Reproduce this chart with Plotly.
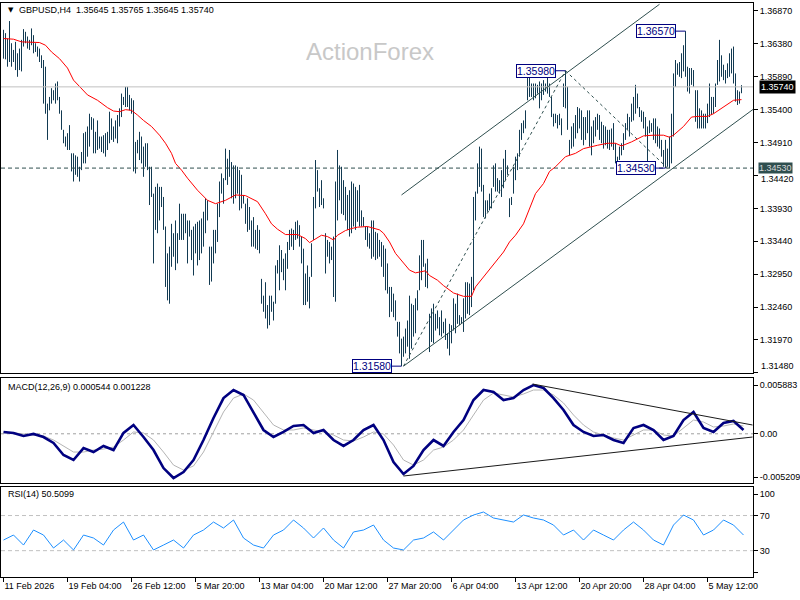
import plotly.graph_objects as go

# ---------------- data (H4 bars, index 0 = first bar) ----------------
high = [
1.3659,1.3654,1.3646,1.3672,1.3639,1.3629,1.3641,1.3624,1.3631,1.3644,
1.3660,1.3656,1.3649,1.3644,1.3661,1.3651,1.3639,1.3634,1.3631,1.3621,
1.3614,1.3604,1.3549,1.3559,1.3572,1.3569,1.3579,1.3582,1.3559,1.3539,
1.3510,1.3500,1.3505,1.3517,1.3475,1.3475,1.3472,1.3470,1.3455,1.3477,
1.3505,1.3507,1.3515,1.3534,1.3529,1.3527,1.3507,1.3524,1.3500,1.3500,
1.3502,1.3505,1.3507,1.3537,1.3527,1.3515,1.3524,1.3532,1.3542,1.3564,
1.3559,1.3574,1.3574,1.3562,1.3557,1.3554,1.3492,1.3495,1.3507,1.3500,
1.3485,1.3490,1.3490,1.3455,1.3455,1.3415,1.3425,1.3430,1.3425,1.3425,
1.3410,1.3366,1.3326,1.3336,1.3370,1.3356,1.3375,1.3356,1.3400,1.3385,
1.3385,1.3385,1.3375,1.3375,
1.3361,1.3366,1.3370,1.3373,1.3375,1.3378,1.3388,1.3408,1.3405,1.3336,
1.3336,1.3361,1.3361,1.3400,1.3433,1.3445,1.3438,1.3482,1.3467,1.3480,
1.3462,1.3457,1.3457,1.3455,1.3450,1.3443,1.3413,1.3400,1.3408,1.3395,
1.3375,1.3380,1.3361,1.3368,1.3361,1.3288,1.3263,1.3283,1.3249,1.3263,
1.3263,1.3254,1.3308,1.3316,1.3338,1.3331,1.3318,1.3326,1.3343,1.3361,
1.3363,1.3361,1.3373,1.3375,1.3368,1.3351,1.3333,1.3296,1.3308,1.3291,
1.3341,1.3410,1.3465,1.3450,1.3423,1.3435,1.3408,1.3356,1.3346,1.3343,
1.3336,1.3351,1.3433,1.3480,1.3457,1.3455,1.3435,1.3425,1.3413,1.3420,
1.3433,1.3430,1.3425,1.3420,1.3428,1.3390,1.3380,1.3366,1.3366,1.3356,
1.3375,1.3375,1.3358,1.3356,
1.3346,1.3343,1.3338,1.3333,1.3311,1.3276,1.3276,1.3266,1.3256,1.3224,
1.3224,1.3199,1.3202,1.3214,1.3226,1.3263,1.3251,1.3249,1.3259,1.3271,
1.3323,1.3346,1.3346,1.3311,1.3318,1.3236,1.3244,1.3251,1.3236,1.3241,
1.3231,1.3241,1.3224,1.3229,1.3207,1.3221,1.3219,1.3259,1.3251,1.3266,
1.3234,1.3231,1.3259,1.3283,1.3283,1.3281,1.3291,1.3410,1.3418,1.3460,
1.3485,1.3482,1.3428,1.3405,1.3405,1.3415,1.3423,1.3457,1.3460,1.3438,
1.3435,1.3450,1.3467,1.3480,1.3457,1.3408,1.3410,1.3455,1.3470,1.3475,
1.3510,1.3520,1.3524,1.3539,1.3589,1.3589,1.3579,1.3579,1.3579,1.3577,
1.3582,1.3579,1.3584,1.3579,1.3597,1.3579,1.3559,1.3534,1.3534,1.3532,
1.3534,1.3527,1.3579,1.3598,
1.3574,1.3495,1.3515,1.3520,1.3532,1.3544,1.3542,1.3539,1.3529,1.3529,
1.3539,1.3539,1.3515,1.3524,1.3529,1.3534,1.3532,1.3522,1.3517,1.3515,
1.3510,1.3510,1.3512,1.3520,1.3490,1.3470,1.3485,1.3490,1.3505,1.3520,
1.3534,1.3529,1.3549,1.3559,1.3577,1.3564,1.3544,1.3539,1.3537,1.3529,
1.3515,1.3524,1.3520,1.3527,1.3527,1.3515,1.3512,1.3495,1.3480,1.3495,
1.3482,1.3500,1.3534,1.3594,1.3614,1.3609,1.3611,1.3624,1.3636,1.3657,
1.3604,1.3602,1.3602,1.3599,1.3569,1.3569,1.3542,1.3539,1.3534,1.3534,
1.3549,1.3579,1.3559,1.3559,1.3579,1.3614,1.3644,1.3621,1.3607,1.3599,
1.3609,1.3624,1.3631,1.3634,1.3594,1.3569,1.3567,1.35765]

low = [
1.3616,1.3615,1.3604,1.3611,1.3604,1.3611,1.3599,1.3589,1.3599,1.3597,
1.3634,1.3639,1.3631,1.3629,1.3636,1.3624,1.3626,1.3619,1.3611,1.3602,
1.3549,1.3534,1.3495,1.3539,1.3549,1.3554,1.3549,1.3554,1.3534,1.3510,
1.3490,1.3485,1.3480,1.3480,1.3448,1.3433,1.3443,1.3440,1.3433,1.3450,
1.3460,1.3460,1.3470,1.3485,1.3510,1.3475,1.3475,1.3480,1.3482,1.3477,
1.3475,1.3470,1.3480,1.3490,1.3495,1.3492,1.3497,1.3490,1.3515,1.3529,
1.3547,1.3544,1.3544,1.3539,1.3534,1.3448,1.3445,1.3475,1.3465,1.3460,
1.3440,1.3455,1.3450,1.3398,1.3410,1.3311,1.3361,1.3356,1.3375,1.3395,
1.3361,1.3276,1.3256,1.3251,1.3306,1.3321,1.3301,1.3311,1.3346,1.3346,
1.3346,1.3356,1.3311,1.3351,
1.3316,1.3293,1.3326,1.3308,1.3316,1.3326,1.3336,1.3356,1.3375,1.3279,
1.3284,1.3311,1.3326,1.3343,1.3380,1.3415,1.3400,1.3435,1.3428,1.3440,
1.3408,1.3400,1.3408,1.3415,1.3390,1.3393,1.3400,1.3370,1.3358,1.3361,
1.3336,1.3336,1.3333,1.3331,1.3326,1.3251,1.3239,1.3229,1.3214,1.3219,
1.3239,1.3226,1.3251,1.3296,1.3271,1.3298,1.3286,1.3271,1.3303,1.3331,
1.3336,1.3331,1.3346,1.3348,1.3336,1.3311,1.3249,1.3249,1.3254,1.3244,
1.3291,1.3346,1.3393,1.3418,1.3395,1.3398,1.3393,1.3296,1.3321,1.3311,
1.3316,1.3261,1.3254,1.3375,1.3405,1.3385,1.3383,1.3375,1.3361,1.3351,
1.3356,1.3366,1.3361,1.3373,1.3366,1.3366,1.3366,1.3346,1.3336,1.3333,
1.3318,1.3321,1.3316,1.3318,
1.3321,1.3306,1.3291,1.3271,1.3266,1.3231,1.3239,1.3231,1.3226,1.3202,
1.3177,1.3158,1.3172,1.3177,1.3187,1.3169,1.3184,1.3202,1.3207,1.3241,
1.3271,1.3286,1.3306,1.3276,1.3274,1.3179,1.3194,1.3192,1.3211,1.3214,
1.3204,1.3202,1.3207,1.3197,1.3184,1.3174,1.3192,1.3211,1.3207,1.3221,
1.3219,1.3221,1.3209,1.3229,1.3236,1.3234,1.3246,1.3271,1.3375,1.3415,
1.3425,1.3418,1.3380,1.3378,1.3388,1.3390,1.3393,1.3425,1.3418,1.3418,
1.3415,1.3410,1.3423,1.3435,1.3443,1.3380,1.3398,1.3415,1.3435,1.3450,
1.3470,1.3495,1.3505,1.3512,1.3554,1.3559,1.3559,1.3554,1.3557,1.3564,
1.3542,1.3554,1.3562,1.3567,1.3564,1.3559,1.3529,1.3515,1.3520,1.3512,
1.3517,1.3502,1.3544,1.3542,
1.3510,1.3472,1.3482,1.3485,1.3497,1.3505,1.3512,1.3495,1.3487,1.3495,
1.3505,1.3485,1.3472,1.3490,1.3500,1.3510,1.3495,1.3490,1.3482,1.3487,
1.3482,1.3480,1.3485,1.3480,1.3460,1.3455,1.3465,1.3472,1.3480,1.3495,
1.3510,1.3500,1.3522,1.3524,1.3534,1.3542,1.3529,1.3522,1.3512,1.3500,
1.3462,1.3505,1.3507,1.3495,1.3490,1.3485,1.3482,1.3470,1.3455,1.3453,
1.3455,1.3453,1.3460,1.3500,1.3574,1.3592,1.3589,1.3587,1.3597,1.3589,
1.3567,1.3564,1.3577,1.3574,1.3522,1.3512,1.3512,1.3512,1.3512,1.3512,
1.3520,1.3529,1.3532,1.3534,1.3544,1.3577,1.3582,1.3589,1.3584,1.3579,
1.3587,1.3589,1.3594,1.3579,1.3552,1.3547,1.3549,1.35645]

# moving average (red) read at selected bars
ma_idx = [0,5,9,18,21,24,28,32,35,38,42,47,52,55,58,61,64,67,70,74,78,81,84,86,89,92,
          97,102,106,111,116,121,124,127,131,134,137,141,147,151,153,156,159,162,165,167,
          171,174,177,182,186,188,190,193,196,200,203,206,211,213,217,220,225,230,234,236,
          240,245,250,253,256,260,263,266,270,273,276,281,286,290,297,302,306,309,314,320,
          325,330,333,335,340,344,347,352,355,359,362,365,369]
ma_val = [1.3646,1.3645,1.3641,1.3640,1.3636,1.3626,1.3616,1.3602,1.3584,1.3574,1.3562,
          1.3554,1.3543,1.3538,1.3537,1.3540,1.3539,1.3532,1.3524,1.3515,1.3502,1.3490,
          1.3475,1.3460,1.3450,1.3438,1.3420,1.3405,1.3400,1.3405,1.3413,1.3412,1.3408,
          1.3403,1.3385,1.3370,1.3362,1.3354,1.3354,1.3348,1.3342,1.3347,1.3353,1.3351,
          1.3346,1.3353,1.3360,1.3363,1.3365,1.3366,1.3363,1.3361,1.3356,1.3343,1.3326,
          1.3311,1.3301,1.3297,1.3300,1.3293,1.3286,1.3278,1.3267,1.3262,1.3262,1.3276,
          1.3291,1.3311,1.3328,1.3343,1.3353,1.3370,1.3393,1.3415,1.3430,1.3448,1.3455,
          1.3470,1.3475,1.3482,1.3487,1.3490,1.3490,1.3486,1.3492,1.3501,1.3502,1.3502,
          1.3499,1.3502,1.3515,1.3529,1.3530,1.3530,1.3534,1.3542,1.3548,1.3554,1.3555]

# MACD(12,26,9) main line and signal line, every 5 bars
macd_val = [0.00022,0.00010,-0.00027,-0.00002,-0.00039,-0.00111,-0.00256,-0.00316,-0.00172,
            -0.00220,-0.00147,-0.00196,0.00010,0.00106,-0.00039,-0.00196,-0.00413,-0.00533,
            -0.00461,-0.00316,-0.00075,0.00190,0.00431,0.00528,0.00468,0.00263,0.00046,
            -0.00039,0.00022,0.00094,0.00106,0.00010,0.00046,-0.00075,-0.00147,-0.00075,
            0.00046,0.00106,-0.00075,-0.00340,-0.00485,-0.00388,-0.00196,-0.00075,-0.00147,
            0.00022,0.00166,0.00407,0.00528,0.00504,0.00407,0.00431,0.00528,0.00588,0.00552,
            0.00431,0.00287,0.00106,0.00022,-0.00027,-0.00015,-0.00075,-0.00111,0.00070,
            0.00106,0.00046,-0.00075,-0.00027,0.00166,0.00263,0.00070,0.00022,0.00130,
            0.00154,0.00046]
signal_val = [0.00010,0.00010,-0.00002,-0.00015,-0.00027,-0.00075,-0.00147,-0.00220,-0.00220,-0.00196,
              -0.00184,-0.00160,-0.00075,0.00022,0.00010,-0.00075,-0.00220,-0.00377,-0.00437,-0.00388,
              -0.00220,0.00022,0.00263,0.00431,0.00480,0.00407,0.00251,0.00106,0.00046,0.00046,
              0.00070,0.00046,0.00022,-0.00015,-0.00075,-0.00087,-0.00039,0.00022,-0.00002,-0.00135,
              -0.00316,-0.00377,-0.00316,-0.00196,-0.00160,-0.00075,0.00046,0.00227,0.00407,0.00492,
              0.00468,0.00444,0.00480,0.00528,0.00528,0.00468,0.00371,0.00227,0.00106,0.00022,
              -0.00015,-0.00051,-0.00075,-0.00015,0.00046,0.00046,-0.00015,-0.00027,0.00070,0.00166,
              0.00142,0.00082,0.00094,0.00118,0.00094]
macd_idx = list(range(0, 5 * len(macd_val), 5))

# RSI(14), every 5 bars
rsi_val = [42.1,47.8,36.4,53.5,47.8,33.0,42.1,30.8,47.8,44.4,36.4,53.5,62.6,42.1,47.8,
           30.8,36.4,42.1,33.0,47.8,53.5,62.6,55.8,64.9,44.4,36.4,33.0,47.8,53.5,64.9,
           55.8,44.4,55.8,42.1,33.0,51.3,53.5,59.2,42.1,33.0,30.8,42.1,44.4,51.3,42.1,
           53.5,64.9,70.6,74.0,67.2,64.9,62.6,70.6,67.2,64.9,59.2,47.8,53.5,42.1,53.5,
           47.8,42.1,53.5,62.6,53.5,42.1,36.4,59.2,70.6,64.9,47.8,53.5,64.9,59.2,47.8]
rsi_idx = list(range(0, 5 * len(rsi_val), 5))

xtick_idx = [0, 32, 64, 96, 128, 160, 192, 224, 256, 288, 320, 352]
xtick_text = ["11 Feb 2026", "19 Feb 04:00", "26 Feb 12:00", "5 Mar 20:00",
              "13 Mar 04:00", "20 Mar 12:00", "27 Mar 20:00", "6 Apr 04:00",
              "13 Apr 12:00", "20 Apr 20:00", "28 Apr 04:00", "5 May 12:00"]
price_ticks = [1.3687, 1.3638, 1.3589, 1.3540, 1.3491, 1.3442, 1.3393,
               1.3344, 1.3295, 1.3246, 1.3197]
price_bottom = 1.3148
last_price = 1.3574
level_price = 1.3453
# RSI scale labels; MT4 pulls the 100 and 0 labels inside the window
rsi_tick_pos = [94.5, 70, 30, 5.7]
rsi_tick_text = ["100", "70", "30", ""]
rsi_zero_label = "0"
# swing labels: (bar index, price, text)
swing_labels = [(341, 1.3657, "1.36570"), (281, 1.3598, "1.35980"),
                (331, 1.3453, "1.34530"), (199, 1.3158, "1.31580")]
channel_upper = ([199, 328], [1.3413, 1.3697])
channel_lower = ([200, 375.5], [1.3158, 1.3542])
dash_up = ([200, 281], [1.3158, 1.3598])
dash_down = ([281, 332], [1.3598, 1.3453])
macd_tri_upper = ([264.5, 374.5], [0.0060, 0.00106])
macd_tri_lower = ([200, 374.5], [-0.00509, -0.00039])
macd_max, macd_min = 0.005883, -0.005209

# ---------------- layout geometry ----------------
W, H = 800, 600
ML, MR, MT, MB = 1, 47, 3, 23
PW, PH = W - ML - MR, H - MT - MB
def px_x(px):
    return (px - ML) / PW
def px_y(py):
    return (H - MB - py) / PH

FONT = "Liberation Sans, Arial, sans-serif"
BAR = "#123a52"
SLATE = "#2f4f4f"
XR = [-1.25, 374.75]

fig = go.Figure()

# bars
bx, by = [], []
for i, (h, l) in enumerate(zip(high, low)):
    bx += [i, i, None]
    by += [l, h, None]
fig.add_trace(go.Scatter(x=bx, y=by, mode="lines", line=dict(color=BAR, width=1),
                         hoverinfo="skip", xaxis="x", yaxis="y"))
# MA
fig.add_trace(go.Scatter(x=ma_idx, y=ma_val, mode="lines", line=dict(color="#ff0000", width=1),
                         hoverinfo="skip", xaxis="x", yaxis="y"))
# current price line and level
fig.add_trace(go.Scatter(x=XR, y=[last_price, last_price], mode="lines",
                         line=dict(color="#c0c0c0", width=1), hoverinfo="skip", xaxis="x", yaxis="y"))
fig.add_trace(go.Scatter(x=XR, y=[level_price, level_price], mode="lines",
                         line=dict(color=SLATE, width=1, dash="4px,3px"), hoverinfo="skip", xaxis="x", yaxis="y"))
# channel and dotted swing lines
for (xs, ys) in (channel_upper, channel_lower):
    fig.add_trace(go.Scatter(x=xs, y=ys, mode="lines", line=dict(color=SLATE, width=1),
                             hoverinfo="skip", xaxis="x", yaxis="y"))
for (xs, ys) in (dash_up, dash_down):
    fig.add_trace(go.Scatter(x=xs, y=ys, mode="lines", line=dict(color=SLATE, width=1, dash="3px,3px"),
                             hoverinfo="skip", xaxis="x", yaxis="y"))

# MACD
fig.add_trace(go.Scatter(x=XR, y=[0, 0], mode="lines", line=dict(color="#a0a0a0", width=1, dash="dot"),
                         hoverinfo="skip", xaxis="x2", yaxis="y2"))
fig.add_trace(go.Scatter(x=macd_idx, y=signal_val, mode="lines", line=dict(color="#b4b4b4", width=1),
                         hoverinfo="skip", xaxis="x2", yaxis="y2"))
fig.add_trace(go.Scatter(x=macd_idx, y=macd_val, mode="lines", line=dict(color="#000080", width=2.6),
                         hoverinfo="skip", xaxis="x2", yaxis="y2"))
for (xs, ys) in (macd_tri_upper, macd_tri_lower):
    fig.add_trace(go.Scatter(x=xs, y=ys, mode="lines", line=dict(color="#1a1a1a", width=1),
                             hoverinfo="skip", xaxis="x2", yaxis="y2"))

# RSI
for lv in (70, 30):
    fig.add_trace(go.Scatter(x=XR, y=[lv, lv], mode="lines", line=dict(color="#c0c0c0", width=1, dash="4px,3px"),
                             hoverinfo="skip", xaxis="x3", yaxis="y3"))
fig.add_trace(go.Scatter(x=rsi_idx, y=rsi_val, mode="lines", line=dict(color="#1e90ff", width=1),
                         hoverinfo="skip", xaxis="x3", yaxis="y3"))
# "0" scale label drawn as an unclipped text mark just right of the RSI window
fig.add_trace(go.Scatter(x=[XR[1] + 3], y=[rsi_tick_pos[-1]], mode="text", text=[rsi_zero_label],
                         textposition="middle right", cliponaxis=False,
                         textfont=dict(family=FONT, size=9, color="black"),
                         hoverinfo="skip", xaxis="x3", yaxis="y3"))

axfont = dict(family=FONT, size=9, color="black")
common_x = dict(range=XR, showgrid=False, zeroline=False, showline=True, mirror=True,
                linecolor="black", linewidth=1, fixedrange=True, automargin=False)
common_y = dict(showgrid=False, zeroline=False, showline=True, mirror=True, linecolor="black",
                linewidth=1, side="right", ticks="outside", ticklen=4, tickcolor="black",
                tickfont=axfont, automargin=False, ticklabeloverflow="allow")

# the 1.34420 label sits just under the 1.34530 level tag (as in MT4), drawn separately
hidden_tick = 1.3442
price_ticktext = ["" if v == hidden_tick else "%.5f" % v for v in price_ticks]

fig.update_layout(
    width=W, height=H, margin=dict(l=ML, r=MR, t=MT, b=MB, pad=0),
    paper_bgcolor="white", plot_bgcolor="white", showlegend=False,
    xaxis=dict(domain=[0, 1], anchor="y", showticklabels=False, ticks="", **common_x),
    xaxis2=dict(domain=[0, 1], anchor="y2", matches="x", showticklabels=False, ticks="", **common_x),
    xaxis3=dict(domain=[0, 1], anchor="y3", matches="x", tickvals=xtick_idx, ticktext=xtick_text,
                ticks="outside", ticklen=4, tickcolor="black", tickfont=axfont,
                ticklabelposition="outside right", **common_x),
    yaxis=dict(domain=[px_y(373), px_y(3)], range=[1.31478, 1.36989], anchor="x",
               tickvals=price_ticks + [price_bottom],
               ticktext=price_ticktext + [""], **common_y),
    yaxis2=dict(domain=[px_y(483), px_y(378)], range=[-0.005933, 0.006727], anchor="x2",
                tickvals=[macd_max, 0, macd_min], ticktext=["%.6f" % macd_max, "0.00", "%.6f" % macd_min],
                **common_y),
    yaxis3=dict(domain=[px_y(577), px_y(487)], range=[0, 102.5], anchor="x3",
                tickvals=rsi_tick_pos, ticktext=rsi_tick_text, **common_y),
)

ann = []
# header texts
ann.append(dict(xref="paper", yref="paper", x=px_x(6), y=px_y(10), text="▼", showarrow=False,
                xanchor="left", yanchor="middle", font=dict(family="DejaVu Sans", size=7, color="black")))
ann.append(dict(xref="paper", yref="paper", x=px_x(17), y=px_y(10),
                text="GBPUSD,H4  1.35645 1.35765 1.35645 1.35740", showarrow=False,
                xanchor="left", yanchor="middle", font=dict(family=FONT, size=9, color="black")))
ann.append(dict(xref="paper", yref="paper", x=px_x(370), y=px_y(52), text="ActionForex", showarrow=False,
                xanchor="center", yanchor="middle", font=dict(family=FONT, size=24, color="#c8c8c8")))
ann.append(dict(xref="paper", yref="paper", x=px_x(6), y=px_y(387), text="MACD(12,26,9) 0.000544 0.001228",
                showarrow=False, xanchor="left", yanchor="middle", font=dict(family=FONT, size=9, color="black")))
ann.append(dict(xref="paper", yref="paper", x=px_x(6), y=px_y(494), text="RSI(14) 50.5099",
                showarrow=False, xanchor="left", yanchor="middle", font=dict(family=FONT, size=9, color="black")))
# edge labels that MT4 lifts inside the panel
ann.append(dict(xref="paper", yref="paper", x=px_x(759), y=px_y(366), text="1.31480", showarrow=False,
                xanchor="left", yanchor="middle", font=axfont))
ann.append(dict(xref="paper", yref="paper", x=px_x(759), y=px_y(179), text="%.5f" % hidden_tick,
                showarrow=False, xanchor="left", yanchor="middle", font=axfont))
# swing labels with connectors
for k, p, t in swing_labels:
    ann.append(dict(xref="x", yref="y", x=k, y=p, text=t, showarrow=True, arrowhead=0, arrowwidth=1,
                    arrowcolor="#000080", ax=-30, ay=0, standoff=0, startstandoff=0,
                    bordercolor="#000080", borderwidth=1, borderpad=0, bgcolor="white",
                    font=dict(family=FONT, size=10.5, color="#000080")))
# price tags on the axis
ann.append(dict(xref="paper", yref="y", x=px_x(759), y=last_price, text="1.35740", showarrow=False,
                xanchor="left", yanchor="middle", bgcolor="black", borderpad=1,
                font=dict(family=FONT, size=9, color="white")))
ann.append(dict(xref="paper", yref="y", x=px_x(758), y=level_price, text="1.34530", showarrow=False,
                xanchor="left", yanchor="middle", bgcolor=SLATE, borderpad=0,
                font=dict(family=FONT, size=9, color="#d8d8d8")))
fig.update_layout(annotations=ann)

fig.write_html("out.html")
